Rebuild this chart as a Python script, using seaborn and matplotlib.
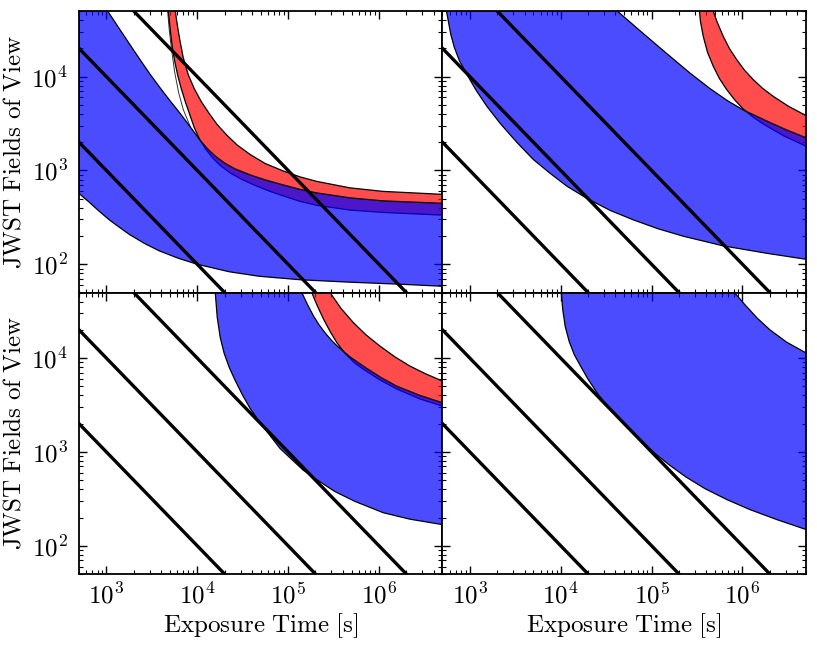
import numpy as np
import pandas as pd
import matplotlib
matplotlib.use("Agg")
import matplotlib.pyplot as plt
import seaborn as sns
from matplotlib.colors import to_rgba
from matplotlib.ticker import FuncFormatter, NullFormatter, LogLocator

# --- Reference lines: N = C / t (endpoints) ---
line_t = [100, 1e7]
line_n = {
    "1e6": [1e4, 0.1],
    "1e7": [1e5, 1.0],
    "1e8": [1e6, 10.0],
}

# --- Top left panel ---
tl_blue_lo_t = [500, 650, 838, 1079, 1390, 1791, 2618, 3819, 6180, 1e4, 22490,
                47970, 135500, 480000, 1.7e6, 5e6]
tl_blue_lo_n = [569, 457, 366, 297, 248, 208, 167, 139, 116, 100, 83.2,
                74.5, 68.4, 64.4, 61.3, 58.3]
tl_blue_hi_t = [500, 1026, 1355, 1790, 2365, 3047, 3920, 5045, 6500, 8810,
                10790, 13200, 16180, 20320, 26170, 38200, 55800, 88100,
                135500, 206700, 480000, 1.107e6, 5e6]
tl_blue_hi_n = [5e5, 50400, 33600, 22400, 15000, 10500, 7550, 5490, 4040, 2730,
                2085, 1671, 1393, 1187, 1037, 896, 793, 701,
                628, 576, 510, 474, 446]
tl_red_hi_t = [5370, 5730, 6030, 6420, 7020, 7960, 9270, 11070, 13550, 16590,
               21370, 27530, 38200, 55800, 88100, 135500, 206700, 480000,
               1.107e6, 5e6]
tl_red_hi_n = [1e5, 50400, 35700, 24800, 15900, 10500, 7450, 5420, 4040, 3080,
               2355, 1866, 1479, 1187, 988, 853, 764, 652,
               598, 556]
tl_red_lo_t = [4570, 4800, 5045, 5310, 5660, 6110, 6670, 7380, 8270, 9270,
               10520, 12250, 14620, 17900, 23050, 30990, 43370, 63400, 88100,
               135500, 206700, 480000, 1.107e6, 5e6]
tl_red_lo_n = [1e5, 50400, 31600, 20800, 14450, 10250, 7450, 5420, 3945, 2865,
               2188, 1713, 1374, 1130, 940, 802, 692, 598, 536,
               468, 425, 378, 357, 334]
tl_thin_t = [4390, 4720, 4920, 5270, 5660, 6240, 7020, 8370]
tl_thin_n = [1e5, 50400, 31600, 18000, 11030, 6760, 4455, 2940]

# --- Top right panel ---
tr_blue_lo_t = [426, 552, 581, 618, 676, 767, 931, 1178, 1545, 2164, 3300, 4990,
                7670, 11790, 19400, 35000, 63100, 117800, 223300, 615000,
                1.846e6, 5e6]
tr_blue_lo_n = [2e5, 50400, 38500, 28000, 20400, 14800, 10500, 7100, 4800, 3160,
                1987, 1309, 929, 676, 504, 375, 297, 239, 199, 157, 131, 113]
tr_blue_hi_t = [30000, 41500, 76700, 146900, 264800, 439300, 693000, 1.021e6,
                1.372e6, 2.006e6, 3.16e6, 5e6]
tr_blue_hi_n = [66000, 50400, 30100, 17600, 10900, 7450, 5490, 4405,
                3850, 3240, 2667, 2230]
tr_red_hi_t = [369000, 471000, 524800, 615000, 719500, 863000, 1.052e6, 1.315e6,
               1.68e6, 2.178e6, 3.24e6, 5e6]
tr_red_hi_n = [1e5, 51600, 38500, 26800, 19900, 15200, 11730, 9290,
               7450, 6170, 4800, 3850]
tr_red_lo_t = [312000, 335000, 345300, 370500, 412300, 477500, 558500, 670000,
               816700, 1.021e6, 1.304e6, 1.693e6, 2.86e6, 5e6]
tr_red_lo_n = [1e5, 51600, 38500, 26800, 18200, 12880, 9520, 7280,
               5690, 4510, 3710, 3126, 2330, 1815]

# --- Bottom left panel ---
bl_blue_lo_t = [14900, 15780, 16600, 17900, 19800, 22490, 26170, 31260, 38200,
                47970, 60800, 81700, 109900, 146300, 198200, 328000, 544000,
                1.114e6, 2.19e6, 5e6]
bl_blue_lo_n = [1e5, 50200, 27200, 16630, 11220, 7960, 5780, 4100, 2905,
                2110, 1571, 1086, 830, 641, 520, 378, 297,
                225, 192, 168]
bl_blue_hi_t = [1e5, 141600, 161900, 189800, 219100, 255200, 297100, 345300,
                480000, 671500, 1.025e6, 1.567e6, 2.825e6, 5e6]
bl_blue_hi_n = [1e5, 49900, 37900, 28200, 22600, 18570, 15640, 13490,
                10300, 8220, 6300, 5020, 4000, 3340]
bl_red_hi_t = [166000, 289500, 381800, 522400, 719500, 1.025e6, 1.5e6, 2.19e6,
               3.28e6, 5e6]
bl_red_hi_n = [1e5, 49900, 33900, 23900, 17700, 13430, 10300, 8220, 6780, 5690]
bl_red_lo_t = [133000, 182000, 208500, 244500, 289500, 345300, 422600, 530800,
               671500, 1.025e6, 1.567e6, 2.825e6, 5e6]
bl_red_lo_n = [1e5, 49900, 36500, 26200, 19280, 14520, 11220, 9000,
               7620, 5850, 4690, 3670, 3077]

# --- Bottom right panel ---
br_blue_lo_t = [9120, 10120, 10520, 11200, 12390, 14060, 16370, 20050, 25810,
                35000, 51200, 74800, 109200, 159800, 239500, 387100, 676100,
                1.208e6, 2.39e6, 5e6]
br_blue_lo_n = [1e5, 51500, 33100, 21780, 15070, 10950, 8360, 5930, 4100,
                2840, 1965, 1358, 962, 716, 540, 406, 310,
                243, 190, 149]
br_blue_hi_t = [438000, 792800, 1.066e6, 1.443e6, 2.006e6, 3.08e6, 5e6]
br_blue_hi_n = [1e5, 51500, 37000, 26850, 20000, 14730, 11360]

RED = "red"
BLUE = "blue"


def band(ax, t_a, n_a, t_b, n_b, color):
    t = np.concatenate([t_a, t_b[::-1]])
    n = np.concatenate([n_a, n_b[::-1]])
    ax.fill(t, n, facecolor=to_rgba(color, 0.7), edgecolor="k", lw=0.9)


sns.set_style("ticks")
plt.rcParams["mathtext.fontset"] = "cm"
plt.rcParams["font.family"] = ["DejaVu Serif"]
plt.rcParams["text.color"] = "k"
plt.rcParams["axes.labelcolor"] = "k"

fig, axes = plt.subplots(2, 2, figsize=(8.17, 6.48), dpi=100, sharex=True, sharey=True)
plt.subplots_adjust(left=0.0967, right=0.9865, top=0.983, bottom=0.1142,
                    wspace=0, hspace=0)

panels = {
    (0, 0): dict(red=(tl_red_hi_t, tl_red_hi_n, tl_red_lo_t, tl_red_lo_n),
                 blue=(tl_blue_lo_t, tl_blue_lo_n, tl_blue_hi_t, tl_blue_hi_n),
                 thin=(tl_thin_t, tl_thin_n)),
    (0, 1): dict(red=(tr_red_hi_t, tr_red_hi_n, tr_red_lo_t, tr_red_lo_n),
                 blue=(tr_blue_hi_t, tr_blue_hi_n, tr_blue_lo_t, tr_blue_lo_n)),
    (1, 0): dict(red=(bl_red_hi_t, bl_red_hi_n, bl_red_lo_t, bl_red_lo_n),
                 blue=(bl_blue_lo_t, bl_blue_lo_n, bl_blue_hi_t, bl_blue_hi_n)),
    (1, 1): dict(blue=(br_blue_lo_t, br_blue_lo_n, br_blue_hi_t, br_blue_hi_n)),
}

fmt = FuncFormatter(lambda v, p: r"$10^{%d}$" % int(round(np.log10(v))))

for (r, c), spec in panels.items():
    ax = axes[r, c]
    ax.set_xscale("log")
    ax.set_yscale("log")
    if "red" in spec:
        band(ax, *[np.array(a, float) for a in spec["red"]], RED)
    band(ax, *[np.array(a, float) for a in spec["blue"]], BLUE)
    if "thin" in spec:
        ax.plot(spec["thin"][0], spec["thin"][1], color="k", lw=0.7, alpha=0.8)
    for key, n in line_n.items():
        df = pd.DataFrame({"t": line_t, "n": n})
        sns.lineplot(data=df, x="t", y="n", ax=ax, color="k", lw=2.4, sort=False)
    ax.set_xlim(500, 5e6)
    ax.set_ylim(50, 5e4)
    ax.set_xlabel("")
    ax.set_ylabel("")
    for s in ax.spines.values():
        s.set_linewidth(1.3)
        s.set_color("k")
    ax.tick_params(which="both", direction="in", top=True, right=True,
                   colors="k", labelcolor="k", labelsize=18)
    ax.tick_params(which="major", length=6, width=1.0)
    ax.tick_params(which="minor", length=3, width=0.8)
    ax.tick_params(axis="x", pad=6)
    ax.tick_params(axis="y", pad=8)
    ax.xaxis.set_major_locator(LogLocator(base=10, numticks=15))
    ax.xaxis.set_minor_locator(LogLocator(base=10, subs=np.arange(2, 10), numticks=15))
    ax.yaxis.set_major_locator(LogLocator(base=10, numticks=15))
    ax.yaxis.set_minor_locator(LogLocator(base=10, subs=np.arange(2, 10), numticks=15))
    ax.xaxis.set_major_formatter(fmt)
    ax.yaxis.set_major_formatter(fmt)
    ax.xaxis.set_minor_formatter(NullFormatter())
    ax.yaxis.set_minor_formatter(NullFormatter())

for ax in axes[1, :]:
    ax.set_xlabel(r"$\mathrm{Exposure\ Time\ [s]}$", fontsize=18, labelpad=2, color="k")
for ax in axes[:, 0]:
    ax.set_ylabel(r"$\mathrm{JWST\ Fields\ of\ View}$", fontsize=18, labelpad=4, color="k")

fig.savefig("out.png", dpi=100)
